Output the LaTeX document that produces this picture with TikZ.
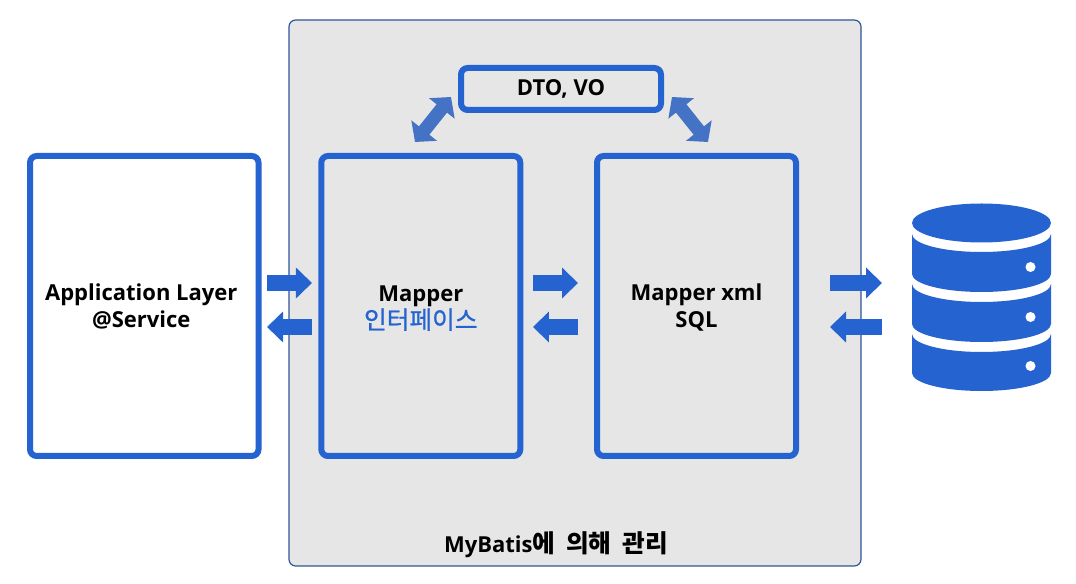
\documentclass[tikz,border=0pt]{standalone}
\usepackage{fontspec}
\setmainfont{Open Sans}
\newfontfamily\krfont{Noto Sans CJK KR}
\newfontfamily\krmedium{Noto Sans CJK KR}[FakeBold=0.8]
\usepackage{tikz}
\usetikzlibrary{arrows.meta}
\usetikzlibrary{positioning}
\newcommand{\unitpx}{0.75pt}
\newcommand{\firstline}{\rule{0pt}{15.5pt}}
\definecolor{boxblue}{HTML}{2563D0}
\definecolor{linkblue}{HTML}{4472C4}
\definecolor{panelgray}{HTML}{E6E6E6}
\definecolor{panelline}{HTML}{2F5597}

\begin{document}
\begin{tikzpicture}[
  x=\unitpx,y=-\unitpx,
  font=\fontsize{16.5pt}{20.25pt}\selectfont\bfseries,
  panel/.style={draw=panelline,line width=.9pt,rounded corners=5pt,fill=panelgray,outer sep=0pt,
    minimum width=572*\unitpx,minimum height=546*\unitpx},
  layer/.style={draw=boxblue,line width=4.5pt,rounded corners=5pt,outer sep=0pt,align=center,
    minimum width=199*\unitpx,minimum height=300*\unitpx},
  small/.style={layer,minimum width=200*\unitpx,minimum height=42*\unitpx},
  to/.style={-{Triangle[length=12pt,width=22.5pt]},draw=boxblue,line width=12pt},
  link/.style={{Triangle[length=11pt,width=24pt]}-{Triangle[length=11pt,width=24pt]},draw=linkblue,line width=10pt},
  every node/.style={align=center}]

  % Position the nodes
  \useasboundingbox (0,0) rectangle (1076,584);
  \node[panel] (mybatis) at (575,293) {};
  \node[layer,fill=white,minimum width=228.5*\unitpx] (app) at (144.25,306)
    {\hspace*{-4.5pt}Application Layer\\\hspace*{-4.5pt}@Service};
  \node[layer,right=62.8*\unitpx of app] (mapper)
    {\firstline Mapper\\{\color{boxblue}\fontsize{18.5pt}{20.25pt}\selectfont\krmedium\mdseries 인터페이스}};
  \node[layer,right=76.7*\unitpx of mapper] (xml) {\firstline Mapper xml\\SQL};
  \node[small] (dto) at (561,89) {DTO, VO};
  \node[anchor=south] (title) at (556,562)
    {MyBatis{\fontsize{18.5pt}{20.25pt}\selectfont\krfont\bfseries 에 \hspace{4pt}의해 \hspace{4pt}관리}};
  \coordinate (db) at (981.5,223);

  % Draw the database
  \fill[boxblue] (db) ellipse [x radius=69.5,y radius=19.5];
  \foreach \ytop/\ybot/\ydot in {234/274/267,284/324/317,334/373/366} {
    \fill[boxblue] (912,\ytop) arc [start angle=180,end angle=0,x radius=69.5,y radius=18]
      -- (1051,\ybot) arc [start angle=0,end angle=180,x radius=69.5,y radius=18] -- cycle;
    \fill[white] (1030.5,\ydot) circle [radius=5];
  }
  \coordinate (dbport) at (912,305);

  % Draw the arrows between the nodes
  \draw[to,shorten <=6.4pt,shorten >=7pt] (app.east |- 0,283) -- (mapper.west |- 0,283);
  \draw[to,shorten <=7pt,shorten >=6.4pt] (mapper.west |- 0,327) -- (app.east |- 0,327);
  \draw[to,shorten <=9.5pt,shorten >=14.25pt] (mapper.east |- 0,283) -- (xml.west |- 0,283);
  \draw[to,shorten <=14.25pt,shorten >=9.5pt] (xml.west |- 0,327) -- (mapper.east |- 0,327);
  \draw[to,shorten <=25.5pt,shorten >=22.5pt] (xml.east |- 0,283) -- (dbport |- 0,283);
  \draw[to,shorten <=22.5pt,shorten >=25.5pt] (dbport |- 0,327) -- (xml.east |- 0,327);
  \coordinate (dtoleft) at (451,97);
  \coordinate (mapperup) at (415,142);
  \coordinate (dtoright) at (672,97);
  \coordinate (xmlup) at (708,142);
  \draw[link] (dtoleft) -- (mapperup);
  \draw[link] (dtoright) -- (xmlup);
\end{tikzpicture}
\end{document}
